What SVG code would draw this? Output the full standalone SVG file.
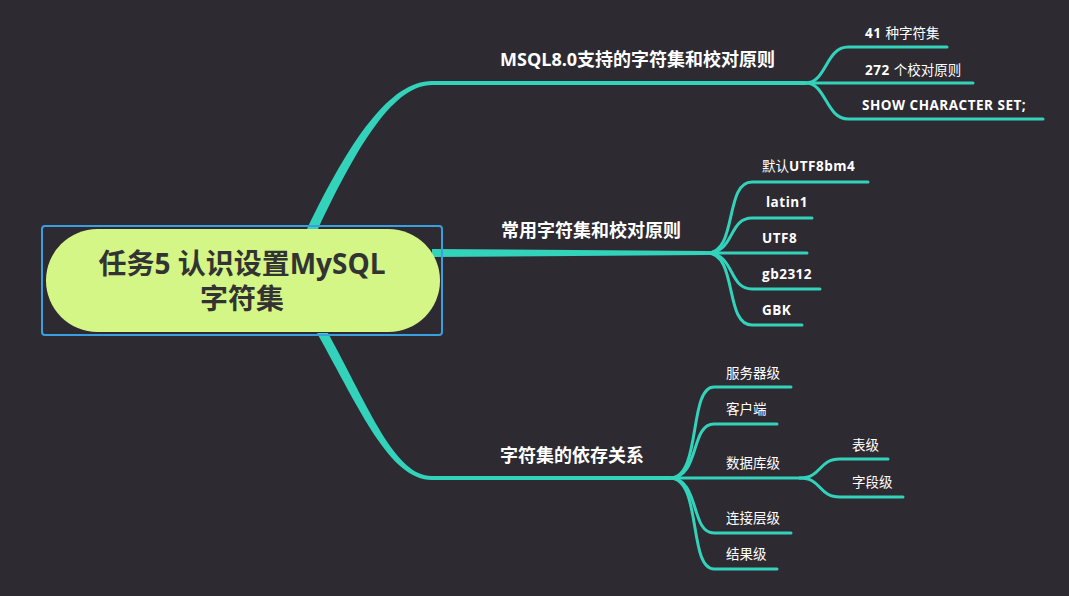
<svg xmlns="http://www.w3.org/2000/svg" width="1069" height="596" viewBox="0 0 1069 596">
<style>
.bg{fill:#2e2a31}
.ln{fill:none;stroke:#32d2bb;stroke-width:3;stroke-linecap:round}
.br{fill:#32d2bb}
.t1{font-family:"Open Sans","Noto Sans CJK SC",sans-serif;font-weight:bold;font-size:18px;fill:#ffffff}
.t2{font-family:"Open Sans","Noto Sans CJK SC",sans-serif;font-weight:bold;font-size:13.5px;letter-spacing:0.5px;fill:#ffffff}
.cn{font-family:"Noto Sans CJK SC",sans-serif;font-weight:normal;letter-spacing:0}
.t3{font-family:"Noto Sans CJK SC",sans-serif;font-size:13.5px;fill:#ffffff}
.tc{font-family:"Open Sans","Noto Sans CJK SC",sans-serif;font-weight:bold;font-size:28px;fill:#333333}
</style>
<rect class="bg" x="0" y="0" width="1069" height="596"/>
<g id="connectors">
  <path class="br" d="M307,229 C350,140 390,81 432,81 L806,81 L806,85 L432,85 C395,85 360,140 318,229 Z"/>
  <path class="br" d="M432,249 L707,251 L707,255 L432,257 Z"/>
  <path class="br" d="M317,333 C360,410 390,480 432,480 L670,480 L670,476 L432,476 C395,476 370,410 328,333 Z"/>
  <path class="ln" d="M806,83 C826,83 826,47 848,47 L947,47"/>
  <path class="ln" d="M806,83 L973,83"/>
  <path class="ln" d="M806,83 C826,83 826,119 848,119 L1043,119"/>
  <path class="ln" d="M707,253 C738,253 724,182 752,182 L868,182"/>
  <path class="ln" d="M707,253 C735,253 728,218 752,218 L812,218"/>
  <path class="ln" d="M707,253 L807,253"/>
  <path class="ln" d="M707,253 C735,253 728,289 752,289 L820,289"/>
  <path class="ln" d="M707,253 C738,253 724,325 752,325 L802,325"/>
  <path class="ln" d="M670,478 C702,478 688,387 714,387 L791,387"/>
  <path class="ln" d="M670,478 C700,478 690,424 714,424 L777,424"/>
  <path class="ln" d="M670,478 L800,478"/>
  <path class="ln" d="M670,478 C700,478 690,533 714,533 L791,533"/>
  <path class="ln" d="M670,478 C702,478 688,569 714,569 L777,569"/>
  <path class="ln" d="M800,478 C822,478 818,459 840,459 L888,459"/>
  <path class="ln" d="M800,478 C822,478 818,497 840,497 L903,497"/>
</g>
<g id="root">
  <rect x="42" y="226" width="400" height="109" rx="3" fill="none" stroke="#3a9fe0" stroke-width="2"/>
  <rect x="46" y="229" width="394" height="103" rx="51.5" fill="#d3f687"/>
  <text class="tc" x="242" y="274" text-anchor="middle">任务5 认识设置MySQL</text>
  <text class="tc" x="242" y="309" text-anchor="middle">字符集</text>
</g>
<g id="n1"><text class="t1" x="500" y="66">MSQL8.0支持的字符集和校对原则</text></g>
<g id="n1a"><text class="t2" x="865" y="38">41 <tspan class="cn">种字符集</tspan></text></g>
<g id="n1b"><text class="t2" x="865" y="75">272 <tspan class="cn">个校对原则</tspan></text></g>
<g id="n1c"><text class="t2" x="862" y="110">SHOW CHARACTER SET;</text></g>
<g id="n2"><text class="t1" x="501" y="237">常用字符集和校对原则</text></g>
<g id="n2a"><text class="t2" x="762" y="171"><tspan class="cn">默认</tspan>UTF8bm4</text></g>
<g id="n2b"><text class="t2" x="766" y="207">latin1</text></g>
<g id="n2c"><text class="t2" x="762" y="243">UTF8</text></g>
<g id="n2d"><text class="t2" x="762" y="279">gb2312</text></g>
<g id="n2e"><text class="t2" x="762" y="315">GBK</text></g>
<g id="n3"><text class="t1" x="500" y="462">字符集的依存关系</text></g>
<g id="n3a"><text class="t3" x="726" y="378">服务器级</text></g>
<g id="n3b"><text class="t3" x="726" y="414">客户端</text></g>
<g id="n3c"><text class="t3" x="726" y="468">数据库级</text></g>
<g id="n3c1"><text class="t3" x="852" y="450">表级</text></g>
<g id="n3c2"><text class="t3" x="852" y="487">字段级</text></g>
<g id="n3d"><text class="t3" x="726" y="523">连接层级</text></g>
<g id="n3e"><text class="t3" x="726" y="559">结果级</text></g>
</svg>
